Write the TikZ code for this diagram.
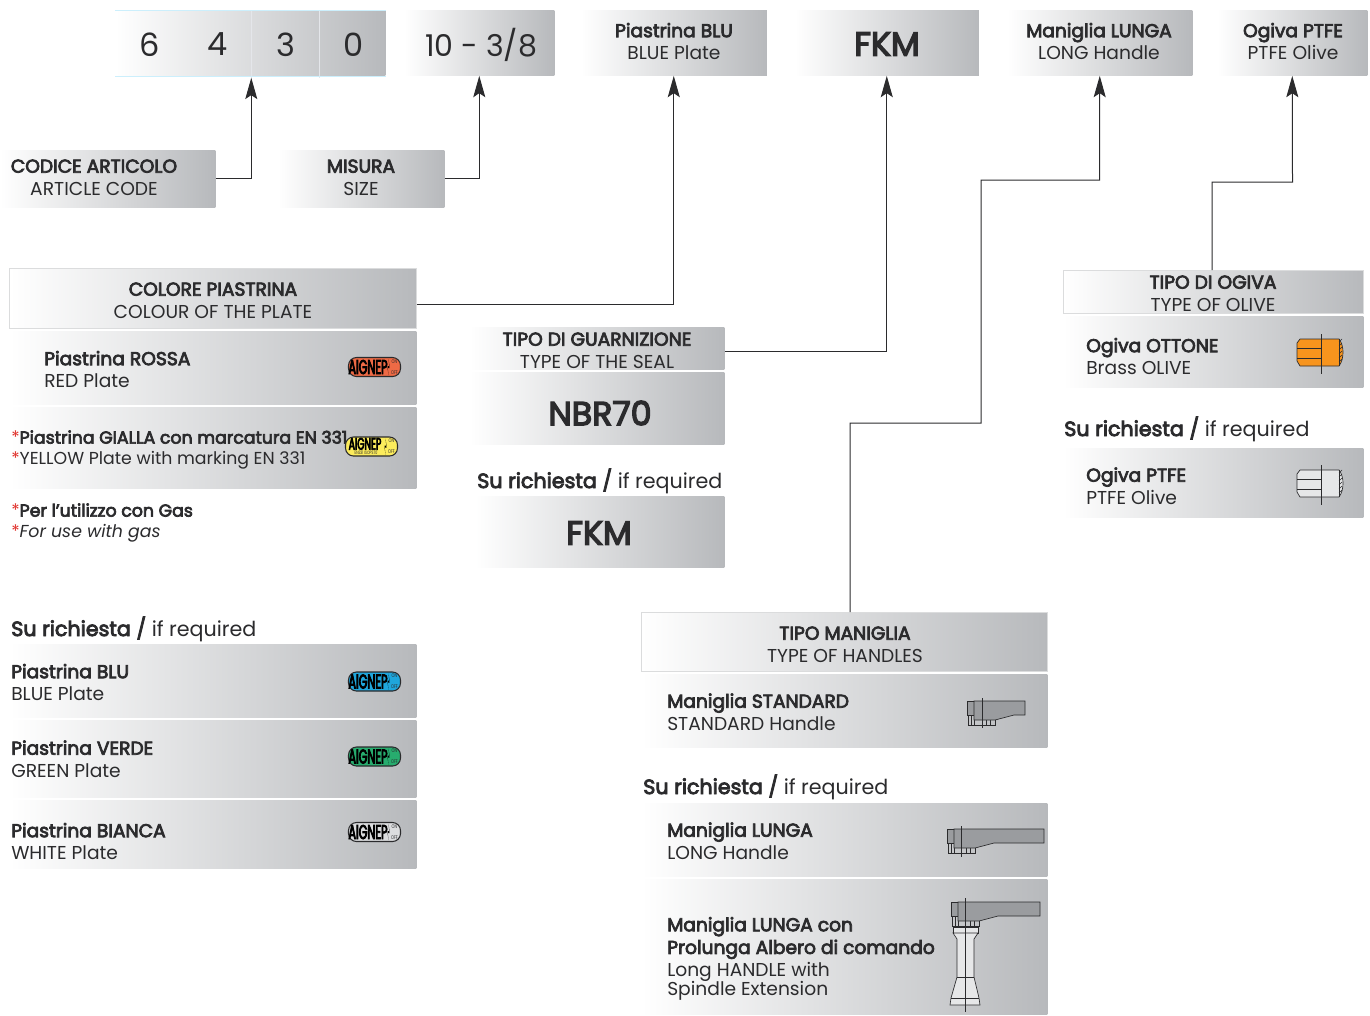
\documentclass[tikz,border=0pt]{standalone}
\usepackage{fontspec}
\setmainfont{Poppins}[BoldFont=Poppins,BoldFeatures={FakeBold=4}]
\newfontfamily\brandfont{Poppins}[FakeStretch=.56,FakeBold=4]
\newfontfamily\switchfont{Poppins}[FakeStretch=.7]
\usetikzlibrary{arrows.meta}
\definecolor{panelgrey}{HTML}{B7B9BC}
\definecolor{inkdark}{HTML}{2B2B2D}
\definecolor{sepline}{HTML}{E4E6EA}
\definecolor{bodygrey}{HTML}{9A9C9F}
\definecolor{partlight}{HTML}{E6E7E8}
\definecolor{starred}{HTML}{E0312B}
\definecolor{plred}{HTML}{EE6A45}
\definecolor{plyellow}{HTML}{FCEC5C}
\definecolor{plblue}{HTML}{1FA6DC}
\definecolor{plgreen}{HTML}{27AC6E}
\definecolor{plwhite}{HTML}{DCDDDF}
\definecolor{olorange}{HTML}{F7941D}
\tikzset{
  panel/.style={left color=white,right color=panelgrey,inner sep=0pt,anchor=north west},
  headpanel/.style={panel,draw=panelgrey!50,line width=.4pt},
  txt/.style={font=\fontsize{14}{17}\selectfont,text=inkdark,inner sep=0pt,align=center},
  leftxt/.style={txt,align=left,anchor=west},
  small/.style={font=\fontsize{13}{16}\selectfont},
  big/.style={font=\fontsize{25}{30}\selectfont\bfseries},
  digit/.style={font=\fontsize{24}{28}\selectfont,text=inkdark,inner sep=0pt,minimum width=49.5pt,minimum height=49.5pt},
  conn/.style={draw=inkdark,line width=.75pt,-{Stealth[length=16pt,width=9pt,inset=3pt]}},
  thinline/.style={draw=inkdark,line width=.5pt},
  brandtxt/.style={inner sep=0pt,text=black,font=\brandfont\fontsize{15}{15}\selectfont},
  switchtxt/.style={inner sep=0pt,text=inkdark,font=\switchfont\fontsize{4}{4}\selectfont},
  badge/.pic={
    \draw[fill=#1,draw=inkdark,line width=.8pt,rounded corners=6pt] (-26,-9.5) rectangle (26,9.5);
    \node[brandtxt] (-brand) at (-6.5,0) {AIGNEP};
    \fill[black] (14,-8) -- (15,-1) -- (13,-1) -- (14,8) -- (13,1) -- (15,1) -- cycle;
    \node[switchtxt] (-on) at (20,-5.5) {ON};
    \node[switchtxt] (-off) at (20,5.5) {OFF};
  },
  handle/.pic={
    \draw[thinline,fill=bodygrey] (-7,0) rectangle (0,14);
    \draw[thinline] (-6,14) rectangle (21,24);
    \foreach \k in {-3,0,12,16} \draw[thinline] (\k,14) -- (\k,24);
    \draw[thinline,fill=bodygrey] (0,0) -- (#1,0) -- (#1,14) -- (40,14) -- (21,19) -- (0,19) -- cycle;
  },
  olive/.pic={
    \draw[thinline,fill=#1] (3,0) -- (42,0) .. controls (45,4) and (46,9) .. (46,13) .. controls (46,18) and (45,23) .. (42,27) -- (3,27) -- (0,22) -- (0,4) -- cycle;
    \draw[thinline] (0,9) -- (24,9) (0,19) -- (24,19);
    \foreach \k in {3,7,...,23} \draw[draw=inkdark,line width=.3pt] (42,\k) -- (45,\k-3);
    \draw[thinline] (42,0) -- (42,27) (24,-5) -- (24,35);
  }
}
\begin{document}
\begin{tikzpicture}[x=.75pt,y=-.75pt]
  \useasboundingbox (0,0) rectangle (1370,1015);
  % panels
  \foreach \nm/\x/\y/\w/\h in {code/115/10/271/66,size/404/10/151/66,plateblu/580.5/10/187/66,sealfkm/794.5/10/185/66,
      lunga/1007/10/186/66,ptfe/1217/10/151/66,codeart/0/150/216/58,misura/278/150/167/58,guarn/469/327/256/43,
      rossa/9/331/408/74,gialla/9/407/408/82,blu/9/644/408/74,verde/9/720/408/78,bianca/9/800/408/69,
      nbr/469/372/256/73,fkmreq/475/496/250/72,
      mstandard/641/674/407/74,mlunga/641/803/407/74,mprolunga/641/879/407/136,
      ottone/1063/316/301/72,ogptfe/1063/448/301/70}
    \node[panel,minimum width=\w*.75pt-.75pt,minimum height=\h*.75pt-.5pt] (\nm) at (\x,\y) {};
  \foreach \nm/\x/\y/\w/\h in {colore/9/268/408/61,maniglia/641/612/407/60,ogiva/1063/270/301/44}
    \node[headpanel,minimum width=\w*.75pt-.75pt,minimum height=\h*.75pt-.5pt] (\nm) at (\x,\y) {};
  % code digits
  \foreach \nm/\x/\t in {d6/150/6,d4/218/4,d3/286/3,d0/354/0}
    \node[digit] (\nm) at (\x,44.5) {\t};
  \draw[sepline,line width=.6pt] (d4.north east) -- (d4.south east) (d3.north east) -- (d3.south east);
  \draw[draw=cyan!20,line width=.5pt] (code.north west) -- (code.north east) (code.south west) -- (code.south east);
  % centred texts
  \foreach \nm/\x/\y/\t in {tbase/94/177.5/{\textbf{CODICE ARTICOLO}\\ARTICLE CODE},tmisura/361/177.5/{\textbf{MISURA}\\SIZE},
      tblu/674/41.5/{\textbf{Piastrina BLU}\\BLUE Plate},tlunga/1099/41.5/{\textbf{Maniglia LUNGA}\\LONG Handle},
      tptfe/1293/41.5/{\textbf{Ogiva PTFE}\\PTFE Olive},tcolore/213/300.5/{\textbf{COLORE PIASTRINA}\\COLOUR OF THE PLATE},
      tguarn/597/350.5/{\textbf{TIPO DI GUARNIZIONE}\\TYPE OF THE SEAL},tmaniglia/845/644.5/{\textbf{TIPO MANIGLIA}\\TYPE OF HANDLES},
      togiva/1213/293.5/{\textbf{TIPO DI OGIVA}\\TYPE OF OLIVE}}
    \node[txt] (\nm) at (\x,\y) {\t};
  \node[digit,font=\fontsize{22.5}{28}\selectfont] (tsize) at (481,44.5) {10 - 3/8};
  \foreach \nm/\x/\y/\t in {tfkm/887/44/FKM,tnbr/600/413/NBR70,tfkmreq/599/533/FKM}
    \node[txt,big] (\nm) at (\x,\y) {\t};
  % row texts
  \foreach \nm/\x/\y/\t in {trossa/44/369.5/{\textbf{Piastrina ROSSA}\\RED Plate},
      tblur/11/682.5/{\textbf{Piastrina BLU}\\BLUE Plate},tverde/11/759/{\textbf{Piastrina VERDE}\\GREEN Plate},
      tbianca/11/841.5/{\textbf{Piastrina BIANCA}\\WHITE Plate},
      tmstd/667/712/{\textbf{Maniglia STANDARD}\\STANDARD Handle},tmlun/667/841/{\textbf{Maniglia LUNGA}\\LONG Handle},
      tmpro/667/938/{\textbf{Maniglia LUNGA con}\\\textbf{Prolunga Albero di comando}},tmpre/667/981.5/{Long HANDLE with\\[-3pt]Spindle Extension},
      tott/1086/356.5/{\textbf{Ogiva OTTONE}\\Brass OLIVE},togp/1086/486/{\textbf{Ogiva PTFE}\\PTFE Olive}}
    \node[leftxt] (\nm) at (\x,\y) {\t};
  \node[leftxt,small] (tgialla) at (11,450) {\textcolor{starred}{*}\textbf{Piastrina GIALLA con marcatura EN 331}\\\textcolor{starred}{*}YELLOW Plate with marking EN 331};
  \node[leftxt,small] (tgas) at (11,523) {\textcolor{starred}{*}\textbf{Per l’utilizzo con Gas}\\\textcolor{starred}{*}\textit{For use with gas}};
  \foreach \nm/\x/\y in {sul/11/629,sug/477/481,sum/643/787,suo/1064/429}
    \node[leftxt,font=\fontsize{15.5}{18}\selectfont] (\nm) at (\x,\y) {\textbf{Su richiesta /} if required};
  % connectors
  \coordinate (hstart) at (850,612);
  \coordinate (hbend) at (981,423);
  \coordinate (lbend) at (1099.5,180);
  \coordinate (ostart) at (1212,270);
  \coordinate (obend) at (1292.5,182);
  \draw[conn] (codeart.east) -| (d4.south east);
  \draw[conn] (misura.east) -| (size.south);
  \draw[conn] ([yshift=-4.5pt]colore.east) -| (plateblu.south);
  \draw[conn] ([yshift=-2pt]guarn.east) -| (sealfkm.south);
  \draw[conn] (hstart) |- (hbend) |- (lbend) -- (lunga.south);
  \draw[conn] (ostart) |- (obend) -- (ptfe.south);
  % plates
  \pic (brossa) at (374.5,367) {badge=plred};
  \pic[brandtxt/.append style={yshift=2pt,font=\brandfont\fontsize{12.5}{13}\selectfont}] (bgialla) at (371.5,446.5) {badge=plyellow};
  \node[inner sep=0pt,text=inkdark,font=\switchfont\fontsize{3.5}{4}\selectfont] (bgcap) at (366,453) {EN331 ISOPS 10};
  \pic (bblu) at (374.5,681.5) {badge=plblue};
  \pic (bverde) at (374.5,756.5) {badge=plgreen};
  \pic (bbianca) at (374.5,832) {badge=plwhite};
  % handles
  \pic (hstd) at (974,701) {handle=51};
  \draw[thinline] (982,698) -- (982,728);
  \pic (hlun) at (954,829) {handle=90};
  \draw[thinline] (961,826) -- (961,857);
  \draw[thinline,fill=partlight] (953,927) rectangle (978,933);
  \draw[thinline,fill=partlight] (953,933) -- (978,933) -- (974,939) -- (974,977) -- (979,998) -- (980,1005) -- (950,1005) -- (951,998) -- (957,977) -- (957,939) -- cycle;
  \draw[thinline] (957,977) -- (974,977) (951,998) -- (979,998);
  \pic (hpro) at (958,902) {handle=82};
  \draw[thinline] (965,898) -- (965,1012);
  % olives
  \pic (oott) at (1297,339) {olive=olorange};
  \pic (optf) at (1297,470) {olive=partlight};
\end{tikzpicture}
\end{document}
